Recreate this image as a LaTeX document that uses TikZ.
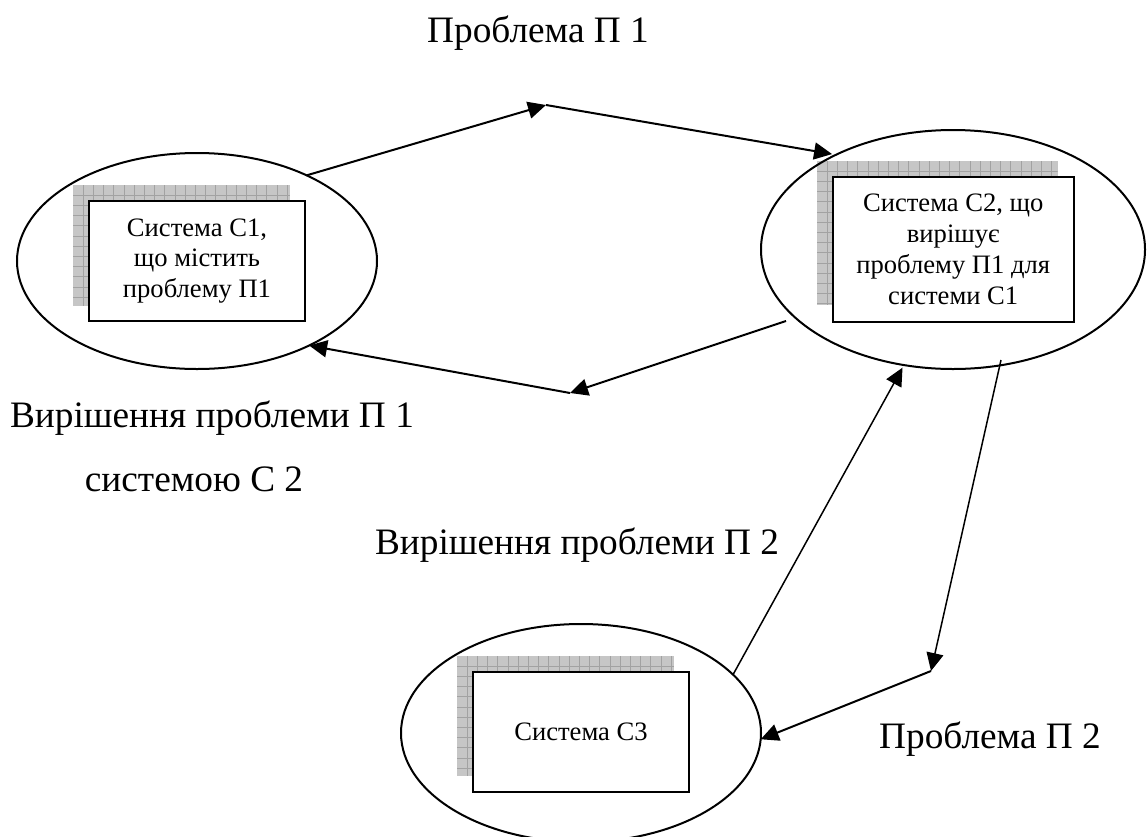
\documentclass[tikz,border=0pt]{standalone}
\usepackage{fontspec}
\setmainfont{Liberation Serif}
\usetikzlibrary{shapes.geometric,arrows.meta}
\definecolor{shadefill}{HTML}{C6C6C6}
\definecolor{shadeline}{HTML}{A2A2A2}
\newcommand{\gridshadow}[4]{%
  \fill[shadefill] (#1,#2) rectangle (#3,#4);
  \begin{scope}
    \clip (#1,#2) rectangle (#3,#4);
    \foreach \k in {1,...,24} {
      \draw[shadeline,line width=0.7pt] ({#1+10.2*\k},#2) -- ({#1+10.2*\k},#4);
    }
    \foreach \k in {1,...,14} {
      \draw[shadeline,line width=0.7pt] (#1,{#2+10.2*\k}) -- (#3,{#2+10.2*\k});
    }
  \end{scope}
}
\tikzset{
  x=1pt,y=-1pt,
  sys/.style={draw=black,line width=2pt,ellipse,inner sep=0pt,outer sep=0pt},
  sysbox/.style={draw=black,fill=white,line width=2pt,rectangle,inner sep=0pt,outer sep=0pt,align=center,font=\fontsize{26.6}{30.8}\selectfont},
  biglabel/.style={inner sep=0pt,outer sep=0pt,anchor=base,font=\fontsize{37.3}{44}\selectfont},
  link/.style={line width=2pt,draw=black},
  thinlink/.style={line width=1.5pt,draw=black},
  linkhead/.style={link,-{Triangle[length=18pt,width=17pt]}},
  thinhead/.style={thinlink,-{Triangle[length=18pt,width=17pt]}}
}
\begin{document}
\begin{tikzpicture}
\useasboundingbox (0,0) rectangle (1148,836);
\fill[white] (0,0) rectangle (1148,836);
\gridshadow{73}{185}{290}{306}
\gridshadow{817}{161}{1057.5}{305}
\gridshadow{457}{656}{674}{776}
\node[sys,minimum width=360pt,minimum height=216pt] (c1) at (197,261) {};
\node[sys,minimum width=384pt,minimum height=239pt] (c2) at (953,249.5) {};
\node[sys,minimum width=360pt,minimum height=218pt] (c3) at (581,733) {};
\node[sysbox,minimum width=216pt,minimum height=120pt] (b1) at (197,261) {Система С1,\\що містить\\проблему П1};
\node[sysbox,minimum width=240.5pt,minimum height=145pt] (b2) at (953.25,249.5) {Система С2, що\\вирішує\\проблему П1 для\\системи С1};
\node[sysbox,minimum width=216pt,minimum height=120pt] (b3) at (581,732) {Система С3};
\coordinate (top) at (546,105);
\coordinate (mid) at (570,393);
\coordinate (low) at (931,671);
\coordinate (c2out) at (786,321);
\coordinate (c2down) at (1001,360);
\draw[linkhead] (c1.38) -- (top);
\draw[linkhead,shorten >=4pt] (top) -- (c2.141);
\draw[linkhead] (c2out) -- (mid);
\draw[linkhead] (mid) -- (c1.-37);
\draw[thinhead,shorten >=3pt] (c3.21) -- (c2.-113);
\draw[thinhead] (c2down) -- (low);
\draw[linkhead] (low) -- (c3.-2);
\node[biglabel] (l1) at (538,42) {Проблема П 1};
\node[biglabel] (l2) at (212,427) {Вирішення проблеми П 1};
\node[biglabel] (l3) at (194,491) {системою С 2};
\node[biglabel] (l4) at (577,554) {Вирішення проблеми П 2};
\node[biglabel] (l5) at (990,748) {Проблема П 2};
\end{tikzpicture}
\end{document}
